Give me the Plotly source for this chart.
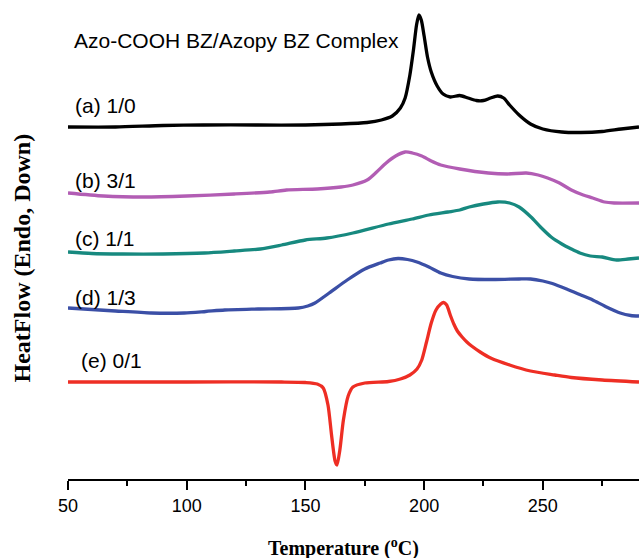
import plotly.graph_objects as go

# Temperature (deg C) and heat-flow readings (arbitrary units, Endo down; axis drawn reversed)
t_a = [50, 70, 90, 107, 130, 150, 165, 176, 182, 186.6, 190, 192, 194, 195.5, 196.8, 197.8, 198.8, 200, 201.5, 203,
       205.5, 208, 211, 215, 218.5, 222, 225, 228, 231, 233.5, 236, 240, 244.8, 250, 258, 266, 275, 283, 290.5]
h_a = [127, 127, 125.5, 125, 125, 125, 124, 122.5, 120, 116, 108, 98, 75, 50, 25, 15, 20, 36, 58, 72,
       86, 94, 97, 95.5, 98, 100.5, 100.5, 98, 96, 98, 105, 115, 124, 129, 132, 132.5, 131.5, 129, 127]

t_b = [50, 65, 82, 100, 120, 135, 142, 155, 165, 170, 176, 180, 184, 188, 192, 195, 199, 203, 207, 215,
       227, 235, 243, 248, 252, 257, 262, 267, 271, 276, 280, 290.5]
h_b = [193, 196, 197, 196, 194, 192, 190, 189, 187, 185, 180, 172, 163, 156, 152, 153, 156, 161, 165, 169,
       173, 174, 173, 175, 178, 183, 190, 195, 198, 202, 203, 203]

t_c = [50, 60, 73, 90, 107.5, 120, 131, 140, 150, 159, 170, 185, 195, 202, 210, 215, 219, 225, 231, 236,
       240, 245, 249, 253.5, 258, 262, 265.6, 270, 275, 281, 286, 290.5]
h_c = [252, 253.5, 254, 254, 253, 251, 249, 245, 240, 238, 233, 224, 219, 215, 212, 210, 207, 204, 202, 203,
       207, 217, 227, 237, 244, 249, 253, 256, 257, 260, 259, 258]

t_d = [50, 70, 85, 99, 108, 116, 130, 147, 151, 154, 160, 167.6, 175, 181.5, 185, 189, 193, 197, 202, 207,
       212, 219, 230, 240, 244.8, 250, 254, 260, 266, 271, 276, 282.6, 287, 290.5]
h_d = [308, 311, 313, 313, 311.5, 310, 309, 308, 306, 303, 293, 280, 269, 263, 260, 258.5, 259.5, 262, 267, 273,
       276.5, 279, 279.5, 279, 279, 281, 283.5, 289, 295, 300, 306, 313, 315.5, 316]

t_e = [50, 100, 140, 150, 155, 157.5, 159.5, 161, 162.5, 163.3, 164.5, 166, 168, 170, 175, 185, 190, 194, 197, 199,
       201, 203, 205, 207, 208.2, 209.5, 211, 212.5, 214, 216, 218, 220, 223.6, 228, 236, 244.8, 255, 262, 275, 290.5]
h_e = [382, 382, 382, 382.5, 384, 388, 405, 435, 461, 465, 450, 420, 396, 387, 383, 381.5, 379, 375, 369, 360,
       342, 323, 310, 304, 302.5, 305, 315, 324, 331, 337, 342, 346, 352, 358, 365, 371, 375, 377.5, 380, 382]

labels = ["(a) 1/0", "(b) 3/1", "(c) 1/1", "(d) 1/3", "(e) 0/1"]
colors = ["#000000", "#B25DB4", "#17897F", "#3B4FA6", "#EE2E24"]
series_t = [t_a, t_b, t_c, t_d, t_e]
series_h = [h_a, h_b, h_c, h_d, h_e]
label_x = [52.2, 52.0, 52.0, 52.2, 54.8]
label_y = [105, 180, 238, 297, 360]

fig = go.Figure()
for t, h, c, name in zip(series_t, series_h, colors, labels):
    fig.add_trace(go.Scatter(x=t, y=h, mode="lines", name=name,
                             line=dict(color=c, width=3.3, shape="spline", smoothing=0.7),
                             showlegend=False, hoverinfo="skip"))

sans = "Liberation Sans, Arial, sans-serif"
serif = "Liberation Serif, Times New Roman, serif"

annotations = [dict(x=51.8, y=40, xref="x", yref="y", text="Azo-COOH BZ/Azopy BZ Complex",
                    showarrow=False, xanchor="left", yanchor="middle",
                    font=dict(family=sans, size=21, color="black"))]
for lx, ly, txt in zip(label_x, label_y, labels):
    annotations.append(dict(x=lx, y=ly, xref="x", yref="y", text=txt, showarrow=False,
                            xanchor="left", yanchor="middle",
                            font=dict(family=sans, size=21, color="black")))
annotations.append(dict(x=0.482, y=-0.142, xref="paper", yref="paper",
                        text="<b>Temperature (<sup>o</sup>C)</b>", showarrow=False,
                        xanchor="center", yanchor="middle",
                        font=dict(family=serif, size=20, color="black")))
annotations.append(dict(x=-0.08, y=0.461, xref="paper", yref="paper",
                        text="<b>HeatFlow (Endo, Down)</b>", showarrow=False, textangle=-90,
                        xanchor="center", yanchor="middle",
                        font=dict(family=serif, size=24, color="black")))

fig.update_layout(
    width=639, height=558,
    margin=dict(l=68, r=0, t=0, b=79),
    paper_bgcolor="white", plot_bgcolor="white",
    annotations=annotations,
    xaxis=dict(range=[50, 290.5], tickvals=[50, 100, 150, 200, 250],
               showline=True, linecolor="black", linewidth=2,
               ticks="outside", ticklen=9, tickwidth=2, tickcolor="black",
               minor=dict(tickvals=[75, 125, 175, 225, 275], ticks="outside", ticklen=5,
                          tickwidth=2, tickcolor="black", showgrid=False),
               showgrid=False, zeroline=False,
               tickfont=dict(family=sans, size=18, color="black")),
    yaxis=dict(range=[479, 0], visible=False, showgrid=False, zeroline=False),
)

fig.write_html("out.html")
